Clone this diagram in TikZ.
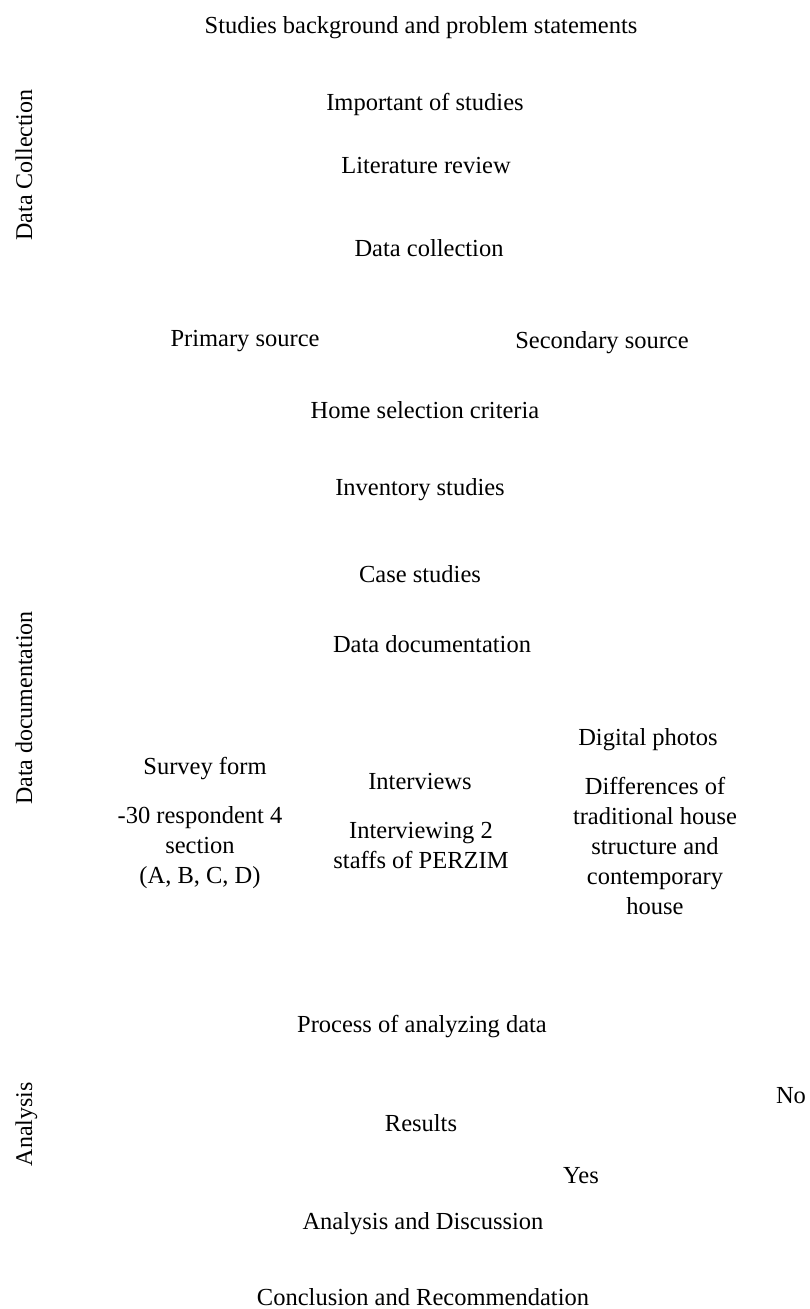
\documentclass[tikz,border=0pt]{standalone}
\usepackage{fontspec}
\setmainfont{Liberation Serif}
\usepackage{tikz}
\usetikzlibrary{positioning}

\tikzset{
  step text/.style={font=\fontsize{24.5}{30}\selectfont, inner sep=0pt, anchor=base, align=center},
  side text/.style={font=\fontsize{24}{29}\selectfont, inner sep=0pt, anchor=base, rotate=90}
}

\begin{document}
\begin{tikzpicture}[x=1pt,y=-1pt]
      \useasboundingbox (0,0) rectangle (809,1309);
      % side labels
      \node[side text] (sideCollect) at (32,165) {Data Collection};
      \node[side text] (sideDoc) at (32,708) {Data documentation};
      \node[side text] (sideAnalysis) at (32,1124) {Analysis};
      % data collection
      \node[step text] (background) at (421,33) {Studies background and problem statements};
      \node[step text] (important) at (425,110) {Important of studies};
      \node[step text] (literature) at (426,173) {Literature review};
      \node[step text] (collection) at (429,256) {Data collection};
      \node[step text] (primary) at (245,346) {Primary source};
      \node[step text] (secondary) at (602,348) {Secondary source};
      \node[step text] (criteria) at (425,418) {Home selection criteria};
      \node[step text] (inventory) at (420,495) {Inventory studies};
      \node[step text] (cases) at (420,582) {Case studies};
      % data documentation (multi-line nodes sit on their last line)
      \node[step text] (documentation) at (432,652) {Data documentation};
      \node[step text] (photos) at (648,745) {Digital photos};
      \node[step text] (survey) at (205,774) {Survey form};
      \node[step text] (interviews) at (420,789) {Interviews};
      \node[step text] (respondent) at (200,883) {-30 respondent 4\\section\\(A, B, C, D)};
      \node[step text] (staffs) at (421,868) {Interviewing 2\\staffs of PERZIM};
      \node[step text] (differences) at (655,914) {Differences of\\traditional house\\structure and\\contemporary\\house};
      % analysis
      \node[step text] (process) at (422,1032) {Process of analyzing data};
      \node[step text] (no) at (791,1103) {No};
      \node[step text] (results) at (421,1131) {Results};
      \node[step text] (yes) at (581,1183) {Yes};
      \node[step text] (discussion) at (423,1229) {Analysis and Discussion};
      \node[step text] (conclusion) at (423,1305) {Conclusion and Recommendation};
\end{tikzpicture}
\end{document}
